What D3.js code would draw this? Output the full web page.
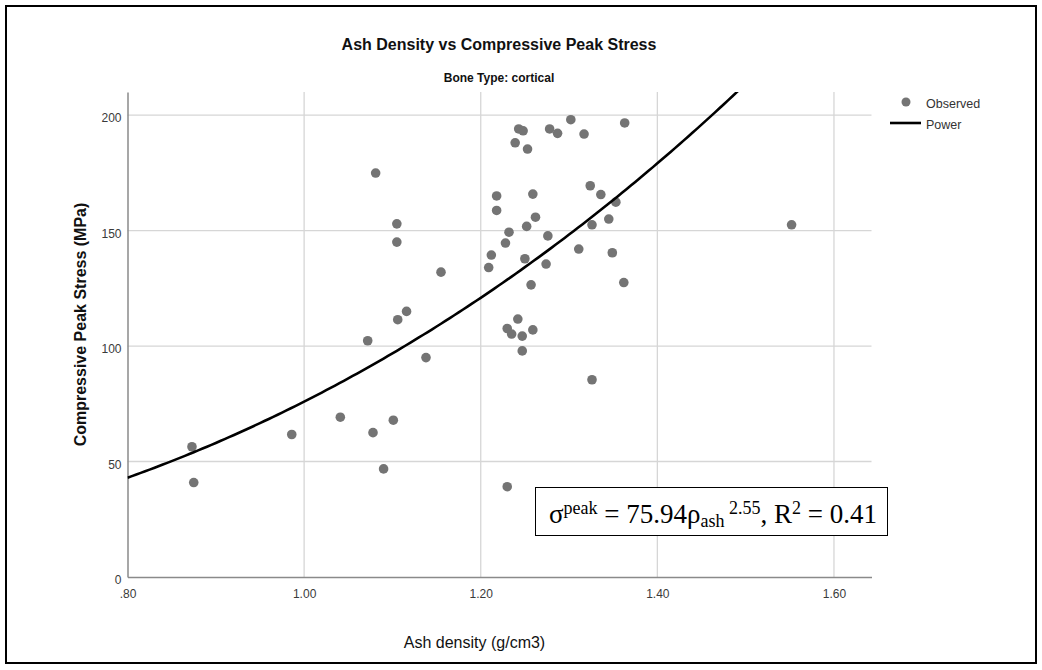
<!DOCTYPE html>
<html>
<head>
<meta charset="utf-8">
<script src="https://cdn.jsdelivr.net/npm/d3@7"></script>
<style>
  body { margin: 0; background: #fff; }
  .sans { font-family: "Liberation Sans", Arial, sans-serif; }
</style>
</head>
<body>
<div id="chart"></div>
<script>

// observed points
var ashDensity = [0.873, 0.875, 0.986, 1.041, 1.078, 1.101, 1.090, 1.072, 1.081, 1.105,
  1.105, 1.106, 1.116, 1.138, 1.155, 1.209, 1.212, 1.218, 1.218, 1.228,
  1.232, 1.230, 1.235, 1.230, 1.239, 1.242, 1.243, 1.247, 1.247, 1.248,
  1.250, 1.252, 1.253, 1.257, 1.259, 1.259, 1.262, 1.274, 1.276, 1.278,
  1.287, 1.302, 1.311, 1.317, 1.324, 1.326, 1.326, 1.336, 1.345, 1.349,
  1.353, 1.362, 1.363, 1.552];
var peakStress = [56.4, 40.9, 61.7, 69.2, 62.5, 67.9, 46.8, 102.3, 174.9, 152.9,
  145.0, 111.4, 115.0, 95.0, 132.0, 134.0, 139.4, 165.0, 158.7, 144.6,
  149.3, 107.6, 105.2, 39.1, 188.0, 111.7, 194.0, 104.3, 97.9, 193.2,
  137.8, 151.8, 185.3, 126.5, 165.8, 107.0, 155.8, 135.5, 147.7, 194.0,
  192.1, 198.0, 142.0, 191.8, 169.4, 152.5, 85.4, 165.6, 155.0, 140.4,
  162.3, 127.5, 196.6, 152.5];

// power fit printed on the chart: y = a * x^b
var fitA = 75.94, fitB = 2.55;

var xTicks = [0.8, 1.0, 1.2, 1.4, 1.6];
var yTicks = [0, 50, 100, 150, 200];
var legendItems = ["Observed", "Power"];

var W = 1042, H = 670;
var margin = {top: 92, right: 170, bottom: 93, left: 127.5},
    width = 871.5 - margin.left,
    height = 577 - margin.top;

var svg0 = d3.select("#chart").append("svg")
    .attr("class", "sans")
    .attr("width", W)
    .attr("height", H);

// outer frame
svg0.append("rect")
    .attr("x", 6).attr("y", 6)
    .attr("width", 1030).attr("height", 657)
    .attr("fill", "none")
    .attr("stroke", "#000")
    .attr("stroke-width", 2);

svg0.append("text")
    .attr("x", 499).attr("y", 50)
    .attr("text-anchor", "middle")
    .attr("font-size", "16px")
    .attr("font-weight", "bold")
    .attr("fill", "#111")
    .text("Ash Density vs Compressive Peak Stress");

svg0.append("text")
    .attr("x", 499).attr("y", 82)
    .attr("text-anchor", "middle")
    .attr("font-size", "12px")
    .attr("font-weight", "bold")
    .attr("fill", "#111")
    .text("Bone Type: cortical");

var svg = svg0.append("g")
    .attr("transform", "translate(" + margin.left + "," + margin.top + ")");

var x = d3.scaleLinear().domain([0.8, 1.6425]).range([0, width]),
    y = d3.scaleLinear().domain([0, 210]).range([height, 0]);

svg.append("defs").append("clipPath")
    .attr("id", "plotclip")
  .append("rect")
    .attr("width", width).attr("height", height);

// grid
svg.append("g")
    .attr("class", "grid")
    .selectAll("line.v")
    .data(xTicks.slice(1))
    .enter().append("line")
      .attr("x1", function(d) { return x(d); })
      .attr("x2", function(d) { return x(d); })
      .attr("y1", 0).attr("y2", height)
      .attr("stroke", "#d6d6d6")
      .attr("stroke-width", 1.3);

svg.append("g")
    .attr("class", "grid")
    .selectAll("line.h")
    .data(yTicks.slice(1))
    .enter().append("line")
      .attr("x1", 0).attr("x2", width)
      .attr("y1", function(d) { return y(d); })
      .attr("y2", function(d) { return y(d); })
      .attr("stroke", "#d6d6d6")
      .attr("stroke-width", 1.3);

// axes
var xAxis = svg.append("g")
    .attr("class", "x-axis")
    .attr("transform", "translate(0," + height + ")")
    .call(d3.axisBottom(x).tickValues(xTicks).tickSize(0).tickPadding(12)
      .tickFormat(function(d) { return d < 1 ? d3.format(".2f")(d).replace(/^0/, "") : d3.format(".2f")(d); }));
xAxis.select(".domain").attr("stroke", "#8a8a8a").attr("stroke-width", 1.5);
xAxis.selectAll("text")
    .attr("font-size", "12px")
    .attr("fill", "#3a3a3a")
    .style("font-family", "Liberation Sans, Arial, sans-serif");

var yAxis = svg.append("g")
    .attr("class", "y-axis")
    .call(d3.axisLeft(y).tickValues(yTicks).tickSize(0).tickPadding(6));
yAxis.select(".domain").attr("stroke", "#8a8a8a").attr("stroke-width", 1.5);
yAxis.selectAll("text")
    .attr("font-size", "12px")
    .attr("fill", "#3a3a3a")
    .attr("dy", "0.55em")
    .style("font-family", "Liberation Sans, Arial, sans-serif");

// axis titles
svg.append("text")
    .attr("x", width / 2 - 25)
    .attr("y", height + 71)
    .attr("text-anchor", "middle")
    .attr("font-size", "16px")
    .attr("fill", "#111")
    .text("Ash density (g/cm3)");

svg.append("text")
    .attr("transform", "translate(-42," + (height / 2 - 10) + ") rotate(-90)")
    .attr("text-anchor", "middle")
    .attr("font-size", "16px")
    .attr("font-weight", "bold")
    .attr("fill", "#111")
    .text("Compressive Peak Stress (MPa)");

// points
svg.append("g")
    .selectAll("circle")
    .data(ashDensity.map(function(d, i) { return [d, peakStress[i]]; }))
    .enter().append("circle")
      .attr("cx", function(d) { return x(d[0]); })
      .attr("cy", function(d) { return y(d[1]); })
      .attr("r", 4.8)
      .attr("fill", "#747474");

// fitted power curve
var curveX = d3.range(0.8, 1.6425, 0.005);
svg.append("path")
    .datum(curveX)
    .attr("clip-path", "url(#plotclip)")
    .attr("fill", "none")
    .attr("stroke", "#000")
    .attr("stroke-width", 2.6)
    .attr("d", d3.line()
      .x(function(d) { return x(d); })
      .y(function(d) { return y(fitA * Math.pow(d, fitB)); }));

// legend
var legend = svg0.append("g").attr("transform", "translate(890,0)");
legend.append("circle")
    .attr("cx", 16).attr("cy", 102).attr("r", 4.5)
    .attr("fill", "#747474");
legend.append("line")
    .attr("x1", 0).attr("x2", 31)
    .attr("y1", 123).attr("y2", 123)
    .attr("stroke", "#000").attr("stroke-width", 2.6);
legend.selectAll("text.leg")
    .data(legendItems)
    .enter().append("text")
      .attr("x", 36)
      .attr("y", function(d, i) { return 108 + i * 21; })
      .attr("font-size", "12.5px")
      .attr("fill", "#333")
      .text(function(d) { return d; });

// equation box
var eq = svg0.append("g");
eq.append("rect")
    .attr("x", 535.5).attr("y", 487.5)
    .attr("width", 352).attr("height", 48)
    .attr("fill", "#fff")
    .attr("stroke", "#000")
    .attr("stroke-width", 1);

var t = eq.append("text")
    .attr("x", 713).attr("y", 523)
    .attr("text-anchor", "middle")
    .style("font-family", "'Liberation Serif', 'Times New Roman', serif")
    .attr("font-size", "27px")
    .attr("fill", "#000");
t.append("tspan").text("\u03c3");
t.append("tspan").attr("font-size", "18px").attr("dy", -9).text("peak");
t.append("tspan").attr("dy", 9).text(" = 75.94\u03c1");
t.append("tspan").attr("font-size", "18px").attr("dy", 4).text("ash");
t.append("tspan").attr("font-size", "18px").attr("dy", -13).text(" 2.55");
t.append("tspan").attr("dy", 9).text(", R");
t.append("tspan").attr("font-size", "18px").attr("dy", -9).text("2");
t.append("tspan").attr("dy", 9).text(" = 0.41");

</script>
</body>
</html>
